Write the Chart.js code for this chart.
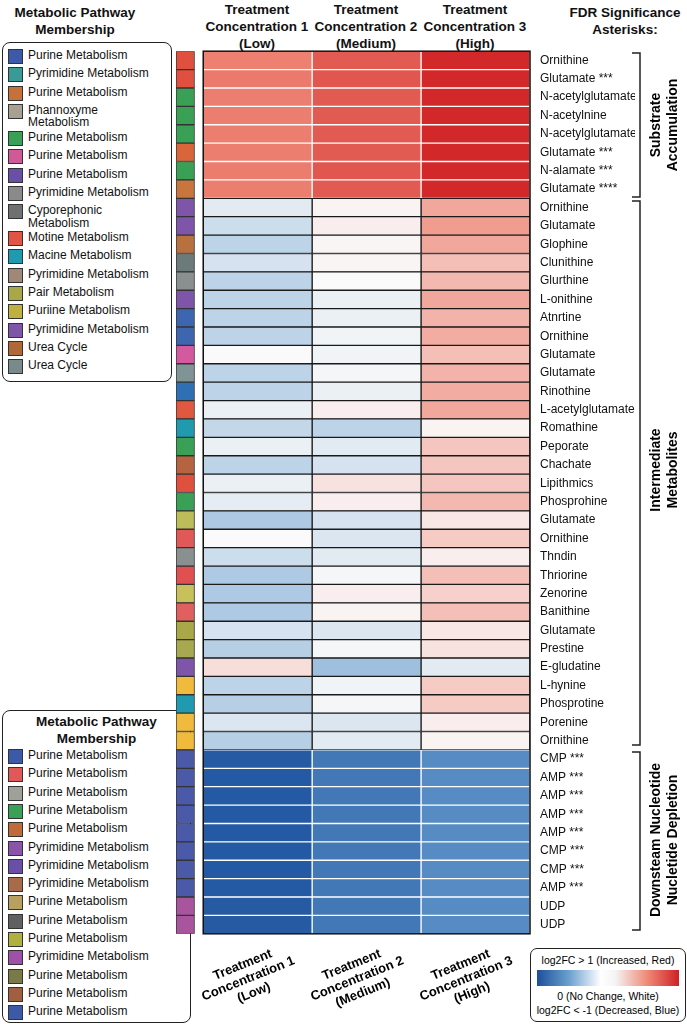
<!DOCTYPE html>
<html><head><meta charset="utf-8">
<script src="https://cdn.jsdelivr.net/npm/chart.js@4.4.0/dist/chart.umd.min.js"></script>
<style>
body{margin:0;width:687px;height:1024px;background:#fff;font-family:"Liberation Sans",Arial,sans-serif;position:relative;overflow:hidden}
.abs{position:absolute}
.hdr{font-weight:bold;font-size:13.5px;text-align:center;line-height:17px;color:#111}
.box{position:absolute;border:1.5px solid #222;border-radius:8px;background:#fff}
.it{position:absolute;left:5px;font-size:12px;line-height:12.5px;color:#111;display:flex;align-items:flex-start}
.sw{width:13px;height:13px;border:1px solid #333;margin-right:5px;flex:none}
.rot{position:absolute;transform:translate(-50%,-50%) rotate(-90deg);font-weight:bold;font-size:14px;text-align:center;line-height:17px;white-space:nowrap}
.bl{position:absolute;transform:translate(-50%,-50%) rotate(-22deg);font-weight:bold;font-size:13px;text-align:center;line-height:15px;white-space:nowrap}
</style></head><body>
<div class="hdr abs" style="left:0;width:150px;top:4px">Metabolic Pathway<br>Membership</div>
<div class="hdr abs" style="left:197px;width:120px;top:1px">Treatment<br>Concentration 1<br>(Low)</div>
<div class="hdr abs" style="left:306px;width:120px;top:1px">Treatment<br>Concentration 2<br>(Medium)</div>
<div class="hdr abs" style="left:415px;width:120px;top:1px">Treatment<br>Concentration 3<br>(High)</div>
<div class="hdr abs" style="left:560px;width:130px;top:4px">FDR Significance<br>Asterisks:</div>
<div class="box" style="left:2px;top:42px;width:168px;height:338px" id="lg1"></div>
<div class="box" style="left:2px;top:710px;width:187px;height:311px" id="lg2"><div class="hdr" style="margin-top:2px">Metabolic Pathway<br>Membership</div></div>
<div style="position:absolute;left:176px;top:42px;width:459px;height:901px"><canvas id="c" width="459" height="901"></canvas></div>
<svg class="abs" style="left:0;top:0" width="687" height="1024">
<g stroke="#222" stroke-width="1.5" fill="none">
<path d="M632 53 H640 V197 H632"/>
<path d="M632 201 H640 V745 H632"/>
<path d="M632 752 H640 V930 H632"/>
</g></svg>
<div class="rot" style="left:664px;top:125px">Substrate<br>Accumulation</div>
<div class="rot" style="left:664px;top:470px">Intermediate<br>Metabolites</div>
<div class="rot" style="left:664px;top:840px">Downsteam Nucleotide<br>Nucletide Depletion</div>
<div class="bl" style="left:248px;top:978px">Treatment<br>Concentration 1<br>(Low)</div>
<div class="bl" style="left:357px;top:978px">Treatment<br>Concentration 2<br>(Medium)</div>
<div class="bl" style="left:466px;top:978px">Treatment<br>Concentration 3<br>(High)</div>
<div class="box" style="left:530px;top:948px;width:154px;height:72px;border-radius:7px;font-size:10.5px;text-align:center;line-height:14px;white-space:nowrap">
<div style="margin-top:4px">log2FC &gt; 1 (Increased, Red)</div>
<div style="margin:3px 6px;height:16px;background:linear-gradient(90deg,#1d4f9a,#6aa0cf,#ffffff 45%,#f4f4f4 55%,#ef8a78,#cf2026)"></div>
<div>0 (No Change, White)</div>
<div>log2FC &lt; -1 (Decreased, Blue)</div>
</div>
<script>
const metabolites=["Ornithine","Glutamate ***","N-acetylglutamate","N-acetylnine","N-acetylglutamate","Glutamate ***","N-alamate ***","Glutamate ****",
"Ornithine","Glutamate","Glophine","Clunithine","Glurthine","L-onithine","Atnrtine","Ornithine","Glutamate","Glutamate","Rinothine","L-acetylglutamate","Romathine","Peporate","Chachate","Lipithmics","Phosprohine","Glutamate","Ornithine","Thndin","Thriorine","Zenorine","Banithine","Glutamate","Prestine","E-gludatine","L-hynine","Phosprotine","Porenine","Ornithine",
"CMP ***","AMP ***","AMP ***","AMP ***","AMP ***","CMP ***","CMP ***","AMP ***","UDP","UDP"];
const lowConc=[0.52,0.55,0.53,0.53,0.53,0.53,0.54,0.53,
-0.08,-0.15,-0.2,-0.12,-0.2,-0.2,-0.2,-0.2,0,-0.2,-0.2,-0.05,-0.18,-0.05,-0.2,-0.05,-0.07,-0.25,0,-0.15,-0.25,-0.25,-0.25,-0.12,-0.22,0.12,-0.2,-0.22,-0.1,-0.22,
-0.92,-0.93,-0.93,-0.93,-0.93,-0.93,-0.93,-0.93,-0.92,-0.92];
const medConc=[0.7,0.72,0.7,0.7,0.7,0.7,0.72,0.7,
0.03,0.05,0.02,0.02,0,-0.05,-0.05,-0.03,-0.03,-0.02,-0.05,0.05,-0.2,-0.08,-0.12,0.1,0.05,-0.12,-0.1,-0.08,-0.02,0.05,0.03,-0.1,-0.02,-0.3,-0.03,-0.02,-0.1,-0.08,
-0.72,-0.72,-0.72,-0.72,-0.72,-0.72,-0.72,-0.72,-0.72,-0.72];
const highConc=[0.95,0.95,0.95,0.95,0.95,0.95,0.95,0.95,
0.35,0.4,0.35,0.25,0.28,0.35,0.3,0.33,0.25,0.3,0.33,0.35,0.03,0.22,0.22,0.22,0.28,0.08,0.2,0.05,0.25,0.18,0.25,0.08,0.1,-0.08,0.2,0.2,0.05,0.03,
-0.58,-0.58,-0.58,-0.58,-0.58,-0.58,-0.58,-0.58,-0.58,-0.58];
const pathwayColors=["#e0503f","#e0503f","#3aa055","#3aa055","#3aa055","#d9653a","#3aa055","#c8763e",
"#7e55a8","#7e55a8","#b8703f","#6c7a7a","#8a9090","#7e55a8","#3d65b0","#3d65b0","#d45aa0","#7f9494","#2f70b5","#e0583f","#1f9aae","#3aa055","#b5643f","#e0503f","#3aa055","#bcbc5a","#e05858","#8a9090","#e05050","#c8c05a","#e06060","#a8a848","#a8a850","#7e55a8","#f0bb3c","#1f9aae","#f0bb3c","#f0bb3c",
"#4a5aa8","#4a5aa8","#4a5aa8","#4a5aa8","#4a5aa8","#4a5aa8","#4a5aa8","#4a5aa8","#a9559e","#a9559e"];
const legend1=[["Purine Metabolism","#3d5aa8"],["Pyrimidine Metabolism","#3a9a98"],["Purine Metabolism","#c8703a"],["Phannoxyme\nMetabolism","#a8a090"],["Purine Metabolism","#3aa055"],["Purine Metabolism","#d05a98"],["Purine Metabolism","#6a4fa8"],["Pyrimidine Metabolism","#8a8a8a"],["Cyporephonic\nMetabolism","#707070"],["Motine Metabolism","#e05545"],["Macine Metabolism","#1f9aae"],["Pyrimidine Metabolism","#a08878"],["Pair Metabolism","#a8a848"],["Puriine Metabolism","#c0b040"],["Pyrimidine Metabolism","#7e55a8"],["Urea Cycle","#b06838"],["Urea Cycle","#7a8a8a"]];
const legend2=[["Purine Metabolism","#3d5aa8"],["Purine Metabolism","#e05858"],["Purine Metabolism","#a0a098"],["Purine Metabolism","#3aa055"],["Purine Metabolism","#c06a3a"],["Pyrimidine Metabolism","#8a55a8"],["Pyrimidine Metabolism","#6a4fa8"],["Pyrimidine Metabolism","#a86a48"],["Purine Metabolism","#b8a060"],["Purine Metabolism","#606060"],["Purine Metabolism","#b0b040"],["Pyrimidine Metabolism","#a050a8"],["Purine Metabolism","#7a7a48"],["Purine Metabolism","#a06040"],["Purine Metabolism","#3d5aa8"]];

function fill(id,items,top){const el=document.getElementById(id);let y=top;items.forEach(([t,c])=>{const d=document.createElement('div');d.className='it';d.style.top=y+'px';d.innerHTML='<span class="sw" style="background:'+c+'"></span><span>'+t.replace('\n','<br>')+'</span>';el.appendChild(d);y+=t.includes('\n')?27:18.3;});}
fill('lg1',legend1,6);fill('lg2',legend2,38);

const stops=[[-1,[26,79,156]],[-0.5,[98,152,203]],[0,[250,250,250]],[0.5,[238,132,116]],[1,[208,30,34]]];
function col(v){v=Math.max(-1,Math.min(1,v));for(let i=0;i<stops.length-1;i++){const[a,ca]=stops[i],[b,cb]=stops[i+1];if(v<=b){const t=(v-a)/(b-a);return 'rgb('+ca.map((x,k)=>Math.round(x+(cb[k]-x)*t)).join(',')+')';}}}
const border=metabolites.map((_,i)=>i<8?'rgba(255,255,255,0.45)':i<38?'#1a1a1a':'rgba(255,255,255,0.45)');
function ds(vals,s){return{data:vals.map(()=>[s,s+1]),backgroundColor:vals.map(col),borderColor:border,borderWidth:1,borderSkipped:false,categoryPercentage:1,barPercentage:1,grouped:false};}
new Chart(document.getElementById('c'),{type:'bar',data:{labels:metabolites,datasets:[
{data:metabolites.map(()=>[-0.25,-0.08]),backgroundColor:pathwayColors,borderColor:'#333',borderWidth:1,borderSkipped:false,categoryPercentage:1,barPercentage:1,grouped:false},
ds(lowConc,0),ds(medConc,1),ds(highConc,2)]},
options:{indexAxis:'y',responsive:false,animation:false,maintainAspectRatio:false,devicePixelRatio:1,layout:{padding:0},
plugins:{legend:{display:false},tooltip:{enabled:false}},
scales:{x:{display:false,min:-0.25,max:3},
y:{position:'right',grid:{display:false},border:{display:false},ticks:{color:'#111',font:{size:12,family:'"Liberation Sans",Arial'},padding:2,autoSkip:false},afterFit:s=>{s.width=105;}}}},
plugins:[{id:'frame',afterDatasetsDraw(c){const x=c.scales.x,a=c.chartArea,g=c.ctx;g.save();g.strokeStyle='#111';g.lineWidth=1.5;g.strokeRect(x.getPixelForValue(0),a.top,x.getPixelForValue(3)-x.getPixelForValue(0),a.bottom-a.top);g.restore();}}]
});
</script>
</body></html>
